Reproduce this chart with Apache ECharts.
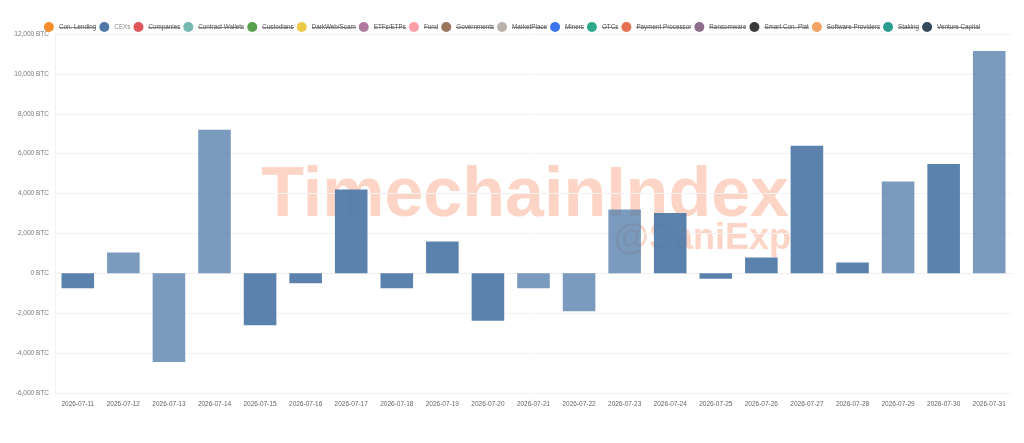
<!DOCTYPE html>
<html>
<head>
<meta charset="utf-8">
<script src="https://cdn.jsdelivr.net/npm/echarts@6/dist/echarts.min.js"></script>
<style>
html,body{margin:0;padding:0;background:#fff;}
#chart{width:1024px;height:443px;}
</style>
</head>
<body>
<div id="chart"></div>
<script>
var dates = ['2026-07-11','2026-07-12','2026-07-13','2026-07-14','2026-07-15','2026-07-16','2026-07-17','2026-07-18','2026-07-19','2026-07-20','2026-07-21','2026-07-22','2026-07-23','2026-07-24','2026-07-25','2026-07-26','2026-07-27','2026-07-28','2026-07-29','2026-07-30','2026-07-31'];
var cexFlow = [-750, 1050, -4450, 7200, -2600, -500, 4200, -750, 1600, -2380, -750, -1900, 3200, 3020, -270, 800, 6400, 540, 4600, 5480, 11150];
var entityNames = ['Con. Lending','CEXs','Companies','Contract Wallets','Custodians','DarkWeb/Scam','ETFs/ETPs','Fund','Governments','MarketPlace','Miners','OTCs','Payment Processor','Ransomware','Smart Con. Plat','Software Providers','Staking','Venture Capital'];
var yTicks = {min: -6000, max: 12000, step: 2000};

// styles
var entityColors = ['#f28e2b','#4e79a7','#e15759','#76b7b2','#59a14f','#edc948','#b07aa1','#ff9da7','#9c755f','#bab0ac','#3b74ee','#2ea88a','#e76f51','#8e6c8c','#3a3a3a','#f4a261','#2a9d8f','#34495a'];
var lightBarIdx = [1,2,3,10,11,12,18,20];

// strike-through image for legend text
var strike = document.createElement('canvas');
strike.width = 1; strike.height = 10;
var sctx = strike.getContext('2d');
sctx.fillStyle = '#555';
sctx.fillRect(0, 5, 1, 1);

var chart = echarts.init(document.getElementById('chart'));
var series = entityNames.map(function (name, i) {
  var s = {
    name: name,
    type: 'bar',
    stack: 'flow',
    barCategoryGap: '28.5%',
    itemStyle: {color: entityColors[i]},
    data: []
  };
  if (name === 'CEXs') {
    s.data = cexFlow;
    s.itemStyle = {
      color: function (p) {
        return lightBarIdx.indexOf(p.dataIndex) >= 0 ? 'rgba(78,121,167,0.75)' : 'rgba(78,121,167,0.93)';
      }
    };
  }
  return s;
});

chart.setOption({
  backgroundColor: '#fff',
  animation: false,
  legend: {
    top: 17,
    left: 'center',
    icon: 'circle',
    itemWidth: 10,
    itemHeight: 10,
    itemGap: 3,
    data: entityNames.map(function (n, i) { return {name: n, itemStyle: {color: entityColors[i]}}; }),
    formatter: function (n) { return n === 'CEXs' ? '{n|' + n + '}' : '{s|' + n + '}'; },
    textStyle: {
      fontSize: 6.3,
      fontFamily: 'Liberation Sans, Arial, sans-serif',
      rich: {
        s: {color: '#555', fontSize: 6.3, lineHeight: 10, backgroundColor: {image: strike}},
        n: {color: '#888', fontSize: 6.3, lineHeight: 10}
      }
    }
  },
  graphic: [
    {type: 'text', z: 0, x: 789, y: 197, style: {text: 'TimechainIndex', font: 'bold 70px "Liberation Sans", Arial, sans-serif', fill: '#fdd5c7', textAlign: 'right', textVerticalAlign: 'middle'}},
    {type: 'text', z: 0, x: 791, y: 239, style: {text: '@SaniExp', font: 'bold 36px "Liberation Sans", Arial, sans-serif', fill: '#fdd5c7', textAlign: 'right', textVerticalAlign: 'middle'}}
  ],
  grid: {left: 55, right: 12, top: 34, bottom: 50, containLabel: false},
  xAxis: {
    type: 'category',
    data: dates,
    axisLine: {show: true, lineStyle: {color: '#f0f0f0'}},
    axisTick: {show: false},
    axisLabel: {fontSize: 6.5, color: '#666', margin: 8, fontFamily: 'Liberation Sans, Arial, sans-serif', interval: 0}
  },
  yAxis: {
    type: 'value',
    min: yTicks.min,
    max: yTicks.max,
    interval: yTicks.step,
    axisLine: {show: true, lineStyle: {color: '#f2f2f2'}},
    axisTick: {show: false},
    splitLine: {lineStyle: {color: '#f2f2f2'}},
    axisLabel: {
      fontSize: 6.5, color: '#777', margin: 6, fontFamily: 'Liberation Sans, Arial, sans-serif',
      formatter: function (v) { return v.toLocaleString('en-US') + ' BTC'; }
    }
  },
  series: series
});
</script>
</body>
</html>
